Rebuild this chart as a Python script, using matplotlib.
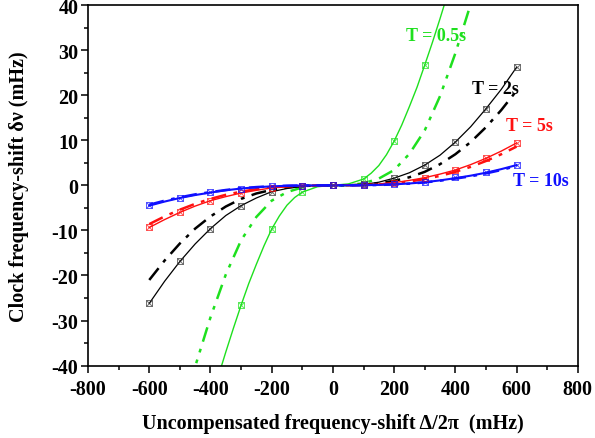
import matplotlib
matplotlib.use("Agg")
import matplotlib.pyplot as plt
from matplotlib.ticker import MultipleLocator

# marker data
x_pts = [-600, -500, -400, -300, -200, -100, 0, 100, 200, 300, 400, 500, 600]
x_green_pts = [-300, -200, -100, 0, 100, 200, 300]
green_pts = [-26.6, -9.7, -1.5, 0, 1.4, 9.8, 26.7]
black_pts = [-26.2, -16.9, -9.6, -4.5, -1.4, -0.2, 0, 0.2, 1.6, 4.5, 9.6, 17.0, 26.2]
red_pts = [-9.3, -6.0, -3.4, -1.8, -0.5, -0.1, 0, 0.1, 0.6, 1.7, 3.4, 6.0, 9.4]
blue_pts = [-4.4, -2.8, -1.5, -0.7, -0.2, -0.05, 0, 0.05, 0.3, 0.8, 1.8, 2.9, 4.6]

# curves, read every 50 mHz (25 mHz where the green one bends)
x_line = [-600, -550, -500, -450, -400, -350, -300, -250, -200, -150, -100, -50, 0,
          50, 100, 150, 200, 250, 300, 350, 400, 450, 500, 550, 600]
x_green = [-400, -350, -325, -300, -275, -250, -225, -200, -175, -150, -125, -100, -50, 0,
           50, 100, 125, 150, 175, 200, 225, 250, 275, 300, 325, 350, 400]
green_fit = [-48, -37.0, -31.7, -26.6, -21.8, -17.5, -13.4, -9.7, -6.8, -4.4, -2.7, -1.5, -0.3, 0,
             0.3, 1.4, 2.7, 4.4, 6.8, 9.8, 13.4, 17.5, 21.8, 26.7, 31.7, 37.0, 48]
x_green_dd = [-500, -450, -400, -350, -300, -250, -200, -150, -100, -50, 0,
              50, 100, 150, 200, 250, 300, 350, 400, 450, 500]
green_dd = [-54, -40.2, -29.3, -19.8, -12.2, -7.0, -3.4, -1.5, -0.45, -0.06, 0,
            0.06, 0.45, 1.5, 3.4, 7.0, 12.2, 19.8, 29.3, 40.2, 54]
black_fit = [-26.2, -21.3, -16.9, -13.0, -9.6, -6.7, -4.5, -2.8, -1.4, -0.7, -0.2, -0.03, 0,
             0.03, 0.2, 0.7, 1.6, 2.8, 4.5, 6.7, 9.6, 13.0, 17.0, 21.3, 26.2]
black_dd = [-21.0, -16.7, -12.9, -9.6, -6.9, -4.7, -3.0, -1.8, -1.0, -0.45, -0.15, -0.02, 0,
            0.02, 0.15, 0.45, 1.0, 1.8, 3.0, 4.7, 6.9, 9.6, 12.9, 16.7, 21.0]
red_fit = [-9.35, -7.6, -6.0, -4.6, -3.4, -2.5, -1.7, -1.1, -0.55, -0.3, -0.1, -0.02, 0,
           0.02, 0.1, 0.3, 0.6, 1.1, 1.7, 2.5, 3.4, 4.6, 6.0, 7.6, 9.4]
red_dd = [-8.6, -6.9, -5.4, -4.1, -3.0, -2.1, -1.4, -0.85, -0.45, -0.2, -0.07, -0.01, 0,
          0.01, 0.07, 0.2, 0.45, 0.85, 1.4, 2.1, 3.0, 4.1, 5.4, 6.9, 8.6]
blue_fit = [-4.5, -3.6, -2.8, -2.15, -1.6, -1.1, -0.7, -0.42, -0.22, -0.1, -0.04, -0.01, 0,
            0.01, 0.04, 0.1, 0.22, 0.42, 0.7, 1.1, 1.6, 2.15, 2.8, 3.6, 4.5]
blue_dd = [-4.3, -3.4, -2.65, -2.0, -1.5, -1.03, -0.65, -0.38, -0.2, -0.08, -0.03, -0.005, 0,
           0.005, 0.03, 0.08, 0.2, 0.38, 0.65, 1.03, 1.5, 2.0, 2.65, 3.4, 4.3]

GREEN = '#1ee01e'
BLACK = '#000000'
RED = '#ff1010'
BLUE = '#1010ff'

plt.rcParams['font.family'] = ['Liberation Serif', 'DejaVu Serif']
plt.rcParams['font.weight'] = 'bold'
plt.rcParams['axes.unicode_minus'] = False

fig = plt.figure(figsize=(5.95, 4.39), dpi=100)
ax = fig.add_axes([0.148, 0.165, 0.823, 0.821])


def marks(x, y, color):
    ax.plot(x, y, ls='none', marker='s', ms=5, mfc='none', mec=color, mew=0.7, alpha=0.7, zorder=4)
    ax.plot(x, y, ls='none', marker='x', ms=4.5, mec=color, mew=0.7, alpha=0.7, zorder=4)


dd = (6, 3, 1.5, 3)
ddd = (6, 3, 1.5, 3, 1.5, 3)

ax.plot(x_green, green_fit, color=GREEN, lw=1.0)
ax.plot(x_green_dd, green_dd, color=GREEN, lw=1.8, dashes=ddd)
marks(x_green_pts, green_pts, GREEN)

ax.plot(x_line, black_fit, color=BLACK, lw=0.9)
ax.plot(x_line, black_dd, color=BLACK, lw=1.8, dashes=dd)
marks(x_pts, black_pts, '#333333')

ax.plot(x_line, red_fit, color=RED, lw=1.0)
ax.plot(x_line, red_dd, color=RED, lw=1.8, dashes=dd)
marks(x_pts, red_pts, RED)

ax.plot(x_line, blue_fit, color=BLUE, lw=1.5)
ax.plot(x_line, blue_dd, color=BLUE, lw=1.8, dashes=dd)
marks(x_pts, blue_pts, BLUE)

ax.set_xlim(-800, 800)
ax.set_ylim(-40, 40)
ax.xaxis.set_major_locator(MultipleLocator(200))
ax.xaxis.set_minor_locator(MultipleLocator(100))
ax.yaxis.set_major_locator(MultipleLocator(10))
ax.yaxis.set_minor_locator(MultipleLocator(5))
ax.tick_params(which='both', direction='out', top=False, right=False, width=1.1, labelsize=14.5)
ax.tick_params(which='major', length=5)
ax.tick_params(which='minor', length=3)
ax.tick_params(axis='x', pad=5)
ax.tick_params(axis='y', pad=2)
for lab in ax.get_xticklabels() + ax.get_yticklabels():
    lab.set_fontweight('bold')
for s in ax.spines.values():
    s.set_linewidth(1.2)

ax.set_xlabel('Uncompensated frequency-shift \u0394/2\u03c0  (mHz)', fontsize=14.5, fontweight='bold', va='center')
ax.set_ylabel('Clock frequency-shift \u03b4\u03bd (mHz)', fontsize=14.5, fontweight='bold', va='center')
ax.xaxis.set_label_coords(0.5, -0.159)
ax.yaxis.set_label_coords(-0.142, 0.5)

ax.text(338, 33.2, 'T = 0.5s', color=GREEN, fontsize=13, fontweight='bold', ha='center', va='center')
ax.text(531, 21.4, 'T = 2s', color=BLACK, fontsize=13, fontweight='bold', ha='center', va='center')
ax.text(641, 13.2, 'T = 5s', color=RED, fontsize=13, fontweight='bold', ha='center', va='center')
ax.text(678, 1.0, 'T = 10s', color=BLUE, fontsize=13, fontweight='bold', ha='center', va='center')

fig.savefig('out.png', dpi=100)
